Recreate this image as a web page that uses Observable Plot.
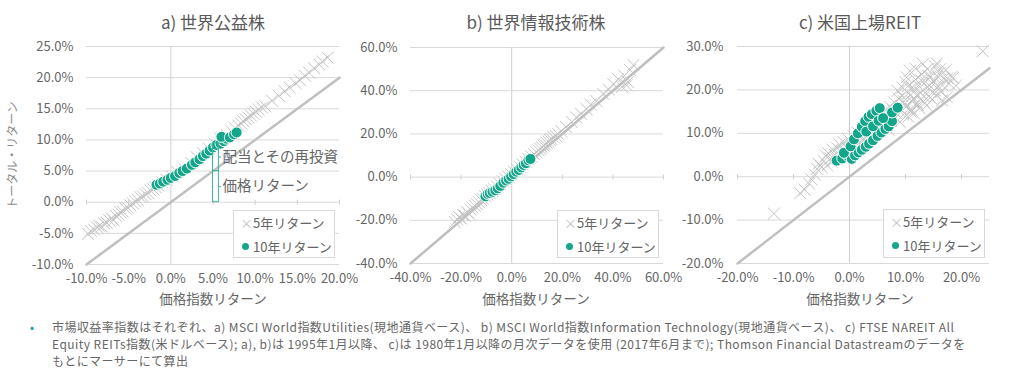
<!DOCTYPE html>
<html><head><meta charset="utf-8">
<script src="https://cdn.jsdelivr.net/npm/d3@7"></script>
<script src="https://cdn.jsdelivr.net/npm/@observablehq/plot@0.6"></script>
<style>
body{margin:0;background:#fff;font-family:"Noto Sans CJK JP","Noto Sans",sans-serif;color:#595959;}
#root{position:relative;width:1019px;height:377px;overflow:hidden;}
.abs{position:absolute;white-space:nowrap;}
.ttl{font-size:17px;transform:translateX(-50%);line-height:1;color:#595959;}
.xl{font-size:13.5px;transform:translateX(-50%);line-height:1;color:#666;}
.lg{position:absolute;background:#fff;border:1px solid #d9d9d9;box-sizing:border-box;font-size:13px;line-height:1;color:#666;}
.lg div{position:absolute;left:6px;display:flex;align-items:center;}
.foot{position:absolute;left:52px;top:318px;font-size:12px;letter-spacing:0.45px;line-height:17px;white-space:nowrap;color:#666;}
svg{overflow:visible;}
</style></head>
<body><div id="root"></div>
<script>
// ---- data (percent units) ----
const titles = ["a) 世界公益株", "b) 世界情報技術株", "c) 米国上場REIT"];
const xTitle = "価格指数リターン";
const yTitle = "トータル・リターン";
const legendLabels = ["5年リターン", "10年リターン"];
const annotLabels = ["配当とその再投資", "価格リターン"];
const annotX = 5;           // price-index return used for the illustration
const annotTotal = 9.5;     // corresponding total return

const aXTicks = [-10, -5, 0, 5, 10, 15, 20];
const aYTicks = [-10, -5, 0, 5, 10, 15, 20, 25];
const bXTicks = [-40, -20, 0, 20, 40, 60];
const bYTicks = [-40, -20, 0, 20, 40, 60];
const cXTicks = [-20, -10, 0, 10, 20];
const cYTicks = [-20, -10, 0, 10, 20, 30];

const a5 = [[-9.8,-5.1],[-9.5,-4.6],[-9.1,-4.4],[-8.7,-4.1],[-8.5,-3.8],[-8.2,-3.9],[-7.9,-3.4],[-7.6,-3.3],[-7.3,-2.9],[-7.0,-2.6],[-6.8,-2.9],[-6.5,-2.2],[-6.2,-2.0],[-6.0,-1.6],[-5.7,-1.5],[-5.4,-1.0],[-5.1,-0.9],[-4.8,-0.5],[-4.5,-0.2],[-4.2,0.1],[-3.9,0.3],[-3.6,0.8],[-3.3,0.9],[-3.0,1.3],[-2.7,1.5],[-2.4,1.9],[-2.1,2.1],[-1.8,2.4],[-1.5,2.7],[-1.0,3.2],[-0.5,3.6],[0.2,4.1],[0.8,4.8],[1.5,5.5],[2.4,6.3],[3.1,7.2],[3.8,7.9],[4.5,8.6],[5.2,9.4],[5.9,10.2],[6.6,10.8],[7.2,11.4],[7.6,11.9],[8.0,12.3],[8.3,12.7],[8.6,13.0],[8.9,13.3],[9.2,13.6],[9.5,13.9],[9.8,14.2],[10.1,14.5],[10.4,14.9],[10.8,15.2],[11.2,15.4],[12.0,16.3],[12.8,17.1],[13.5,17.8],[14.1,18.4],[14.8,19.1],[15.3,19.6],[15.9,20.3],[16.4,20.8],[17.0,21.5],[17.6,22.1],[18.0,22.6],[18.6,23.2]];
const a10 = [[-1.7,2.8],[-1.3,3.0],[-0.9,3.3],[-0.4,3.6],[0.0,3.9],[0.5,4.2],[1.0,4.7],[1.4,5.0],[1.9,5.4],[2.5,6.0],[2.9,6.4],[3.4,6.9],[3.8,7.4],[4.2,7.8],[4.6,8.3],[5.0,8.8],[5.4,9.2],[5.9,9.4],[6.3,9.8],[6.6,10.2],[6.0,10.5],[7.0,10.4],[7.5,10.9],[7.8,11.2]];

const b5 = [[-22.5,-20.8],[-21.5,-19.6],[-20.8,-18.5],[-20,-19.2],[-19.2,-17.6],[-18.5,-17.9],[-17.6,-16.2],[-17,-16.8],[-16.2,-15],[-15.5,-14.1],[-14.6,-13.3],[-13.8,-12.5],[-13,-11.6],[-12.1,-10.6],[-11.4,-10],[-10.5,-8.9],[-9.6,-8.2],[-8.8,-7.3],[-7.8,-6.4],[-6.9,-5.5],[-5.8,-4.3],[-4.7,-3.2],[-3.5,-2],[-2.4,-1],[-1.3,0.2],[-0.2,1.3],[0.9,2.5],[2,3.6],[3.2,4.8],[4.3,5.9],[5.5,7.1],[6.7,8.3],[7.8,9.5],[8.9,10.6],[9.8,11.5],[10.6,12.4],[11.3,13.1],[11.9,13.9],[12.6,14.6],[13.2,15.1],[13.8,15.9],[14.5,16.4],[15.1,17.2],[15.8,17.6],[16.6,18.4],[17.4,19.1],[18.3,20],[19.6,21.3],[21.5,23.2],[23.8,25.5],[25.5,27.6],[27.4,29.3],[29.6,31.5],[31.2,33.6],[33.5,35.2],[36.1,38.6],[38.4,40.5],[40.2,43.1],[42.1,45.3],[43.6,41.8],[44.5,47],[46,44],[46.8,49.6],[48.1,51.9],[45.4,42.5]];
const b10 = [[-10.4,-8.9],[-9.5,-7.8],[-8.7,-7.4],[-7.6,-6.8],[-6.5,-6.1],[-5.5,-5.2],[-4.5,-4.1],[-3.3,-2.6],[-2.2,-1.6],[-1.2,-0.8],[-0.2,0.3],[0.8,1.4],[1.8,2.5],[2.8,3.3],[3.8,4.5],[4.7,5.6],[5.6,6.4],[6.6,7.8],[7.4,8.4]];

const c5 = [[-13.5,-8.5],[23.8,28.9],[-8.8,-3.8],[-8,-3],[-7.2,-1.6],[-6.8,-0.6],[-6.2,0.5],[-5.8,1.8],[-5.5,3.0],[-5,2.2],[-4.6,3.6],[-4.2,4.8],[-3.8,5.4],[-3.4,4.2],[-3,6.2],[-2.6,5.0],[-2.2,6.6],[-1.8,7.4],[-1.5,5.8],[-1,7.9],[-0.6,6.8],[-0.2,8.6],[0.3,7.6],[0.7,9.4],[1.1,8.2],[1.5,10.1],[2,9.0],[2.4,11.2],[2.8,9.8],[3.2,12.0],[3.6,10.6],[4,12.8],[4.4,11.1],[4.8,13.6],[5.2,11.8],[5.6,14.4],[6,12.5],[6.4,15.3],[6.8,13.1],[7.2,16.2],[7.6,14.0],[8,17.1],[8.4,14.6],[8.6,19.8],[8.8,18.0],[9.2,15.4],[9.5,20.5],[9.7,17.4],[10,21.8],[10.2,16.2],[10.5,19.2],[10.8,24.4],[11,15.5],[11.2,20.6],[11.5,18.1],[11.8,22.4],[12,17.0],[12.3,21.0],[12.6,19.4],[12.9,23.6],[13.1,26.0],[13.3,18.5],[13.6,21.8],[13.9,24.8],[14.2,20.2],[14.5,23.1],[14.8,17.8],[15.0,22.0],[15.3,25.4],[15.6,26.1],[15.8,20.8],[16.1,23.9],[16.4,19.5],[16.8,22.6],[17.2,24.6],[17.4,18.3],[17.8,21.5],[18.2,23.0],[18.5,22.8],[19,21.0],[12.5,15.8],[13.8,16.4],[10.5,13.8],[9.0,12.6],[7.0,10.8],[15.5,18.8],[16.5,17.6],[11.5,14.6],
  [-4.0,2.6],[-3.2,3.4],[-2.4,4.2],[-1.6,4.9],[-0.8,5.6],[0.0,6.3],[0.9,7.1],[1.8,7.9],[2.6,8.6],[3.4,9.4],[4.2,10.0],[5.0,10.9],[5.8,11.6],[6.6,12.2],[7.4,12.9],[8.2,13.6],[9.6,14.3],[10.9,15.0],[12.2,16.5],[13.2,17.3],[14.4,18.2],[15.2,19.9],[9.4,18.6],[10.4,20.8],[11.6,19.7],[12.8,22.2],[13.9,20.7],[14.7,21.6],[15.9,22.9],[16.6,21.1],[17.5,22.7],[11.2,17.3],[12.1,18.6],[9.8,16.8],[14.1,23.2],[16.2,24.8],[10.2,22.9],[11.8,24.9],[7.8,15.3],[6.2,13.8]];
const c10 = [[-2.3,3.7],[-1.3,4.2],[-0.3,4.8],[0.4,4.1],[1.0,4.9],[1.6,5.6],[2.2,6.2],[2.9,6.9],[3.5,7.6],[4.2,8.4],[5.0,9.4],[5.7,10.2],[6.4,11.0],[7.0,11.6],[7.6,12.8],[-1.0,5.5],[0.2,7.0],[0.8,8.6],[1.5,10.0],[2.2,11.5],[2.8,12.8],[3.4,13.8],[4.0,14.4],[4.8,15.2],[5.4,15.8],[7.6,14.8],[8.6,15.9],[3.0,10.4],[4.2,11.6],[5.2,12.9],[6.0,13.5]];

const footLines = [
  "市場収益率指数はそれぞれ、a)  MSCI World指数Utilities(現地通貨ベース)、 b) MSCI World指数Information  Technology(現地通貨ベース)、 c) FTSE NAREIT All",
  "Equity REITs指数(米ドルベース);  a), b)は 1995年1月以降、 c)は 1980年1月以降の月次データを使用  (2017年6月まで); Thomson Financial Datastreamのデータを",
  "もとにマーサーにて算出"
];

// ---- styling / layout ----
const TEAL = "#14a68a", CROSS = "#c4c4c4", GRID = "#d9d9d9";
const FONT = '"Noto Sans CJK JP","Noto Sans",sans-serif';
const fmt = d => d.toFixed(1) + "%";
const vtick = {draw(ctx, size){ const r = Math.sqrt(size/Math.PI); ctx.moveTo(0,-r); ctx.lineTo(0,r);} };

const panels = [
  {left:0, width:345, ml:86, mr:6, mt:46, mb:46, xd:[-10,20], yd:[-10,25], xt:aXTicks, yt:aYTicks, d5:a5, d10:a10, pad:13, cx:213, lg:[233,210,102,48], annot:true},
  {left:340, width:330, ml:70, mr:7, mt:47, mb:47, xd:[-40,60], yd:[-40,60], xt:bXTicks, yt:bYTicks, d5:b5, d10:b10, pad:13, cx:536, lg:[557,210,102,48]},
  {left:670, width:349, ml:67, mr:30, mt:46, mb:47, xd:[-20,25], yd:[-20,30], xt:cXTicks, yt:cYTicks, d5:c5, d10:c10, pad:14, cx:860, lg:[883,209,102,49]}
];

const root = document.getElementById("root");

panels.forEach((p, i) => {
  const marks = [
    Plot.ruleY(p.yt, {stroke: GRID, strokeWidth: 1}),
    Plot.ruleX([0], {stroke: "#d0d0d0", strokeWidth: 1}),
    Plot.dot(p.xt, {x: d => d, y: 0, symbol: vtick, r: 2.6, fill: "none", stroke: "#d0d0d0", strokeWidth: 1}),
    Plot.line(p.xd, {x: d => d, y: d => d, stroke: "#bfbfbf", strokeWidth: 2.5}),
    Plot.dot(p.d5, {x: d => d[0], y: d => d[1], symbol: "times", r: 5.5, stroke: CROSS, strokeWidth: 1}),
    Plot.dot(p.d10, {x: d => d[0], y: d => d[1], r: 5.5, fill: TEAL, stroke: "#fff", strokeWidth: 1}),
    Plot.axisX({ticks: p.xt, tickSize: 0, tickPadding: 9, tickFormat: fmt, label: null, fontSize: 13, fill: "#666"}),
    Plot.axisY({ticks: p.yt, tickSize: 0, tickPadding: p.pad, tickFormat: fmt, label: null, fontSize: 13, fill: "#666"})
  ];
  if (p.annot) {
    const w = 0.7, t = 0.3;
    const segs = [{y1: annotX, y2: annotTotal, label: annotLabels[0]}, {y1: 0, y2: annotX, label: annotLabels[1]}];
    marks.push(
      Plot.rect(segs, {x1: annotX, x2: annotX + w, y1: "y1", y2: "y2", fill: "none", stroke: "#3db59b", strokeWidth: 1}),
      Plot.ruleY(segs, {y: d => (d.y1 + d.y2) / 2, x1: annotX + w, x2: annotX + w + t, stroke: "#3db59b", strokeWidth: 1}),
      Plot.text(segs, {x: annotX + w + t, y: d => (d.y1 + d.y2) / 2, text: "label", textAnchor: "start", dx: 1, fontSize: 14.5, fill: "#666"})
    );
  }
  const svg = Plot.plot({
    width: p.width, height: 310,
    marginLeft: p.ml, marginRight: p.mr, marginTop: p.mt, marginBottom: p.mb,
    x: {domain: p.xd}, y: {domain: p.yd},
    style: {fontFamily: FONT, color: "#666", background: "transparent", overflow: "visible"},
    marks
  });
  svg.style.position = "absolute";
  svg.style.left = p.left + "px";
  svg.style.top = "0px";
  root.appendChild(svg);

  const t = document.createElement("div");
  t.className = "abs ttl"; t.style.left = p.cx + "px"; t.style.top = "13px"; t.textContent = titles[i];
  root.appendChild(t);
  const xl = document.createElement("div");
  xl.className = "abs xl"; xl.style.left = p.cx + "px"; xl.style.top = "292px"; xl.textContent = xTitle;
  root.appendChild(xl);

  const lg = document.createElement("div");
  lg.className = "lg";
  lg.style.left = p.lg[0] + "px"; lg.style.top = p.lg[1] + "px"; lg.style.width = p.lg[2] + "px"; lg.style.height = p.lg[3] + "px";
  lg.innerHTML =
    `<div style="top:5px"><span style="color:#c4c4c4;font-size:13px;width:11px;display:inline-block;margin-right:2px;text-align:center">×</span><span>${legendLabels[0]}</span></div>` +
    `<div style="top:29px"><span style="background:${TEAL};width:7px;height:7px;border-radius:50%;display:inline-block;margin:0 4px 0 2px"></span><span>${legendLabels[1]}</span></div>`;
  root.appendChild(lg);
});

const yl = document.createElement("div");
yl.className = "abs";
yl.style.cssText = "left:12px;top:155px;font-size:12px;color:#8c8c8c;transform:translate(-50%,-50%) rotate(-90deg);line-height:1;";
yl.textContent = yTitle;
root.appendChild(yl);

const bullet = document.createElement("div");
bullet.className = "abs";
bullet.style.cssText = `left:30px;top:318px;font-size:12px;line-height:17px;color:${TEAL};`;
bullet.textContent = "•";
root.appendChild(bullet);

const foot = document.createElement("div");
foot.className = "foot";
foot.innerHTML = footLines.join("<br>");
root.appendChild(foot);
</script>
</body></html>
